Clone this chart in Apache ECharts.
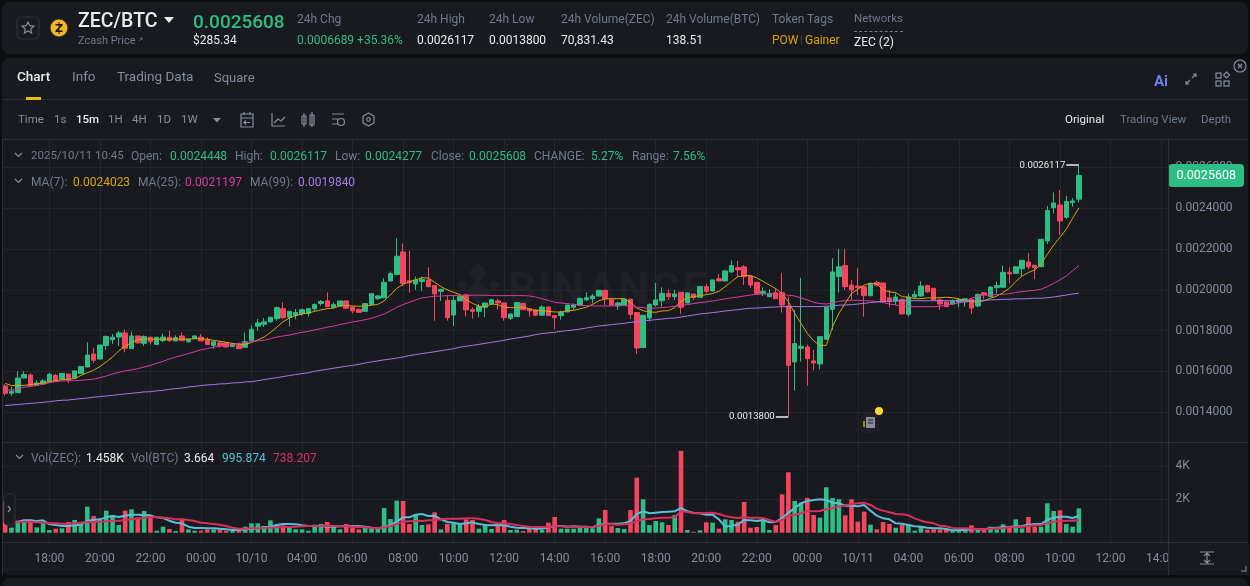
<!DOCTYPE html>
<html>
<head>
<meta charset="utf-8">
<title>ZEC/BTC</title>
<script src="https://cdn.jsdelivr.net/npm/echarts@6/dist/echarts.min.js"></script>
<style>
    html, body { margin: 0; padding: 0; width: 1250px; height: 586px; overflow: hidden; background: #0c0e12; font-family: Roboto, sans-serif; }
    .panel { position: absolute; background: #181a20; border-radius: 8px; }
    .rule { position: absolute; background: #2b3139; }
    .txt { position: absolute; white-space: nowrap; transform: translateY(-50%); line-height: 1; }
    #chart { position: absolute; left: 0; top: 0; width: 1250px; height: 586px; }
    #watermark { position: absolute; left: 508px; top: 263px; font: 700 44px Roboto, sans-serif; letter-spacing: 2px; color: #1f2127; }
    svg { position: absolute; overflow: visible; }
</style>
</head>
<body>
<div class="panel" style="left:2px;top:2px;width:1246px;height:52px"></div>
<div class="panel" style="left:2px;top:58px;width:1246px;height:517px"></div>
<div class="panel" style="left:2px;top:578px;width:1246px;height:20px"></div>
<div id="watermark">BINANCE</div>
<svg style="left:0;top:0" width="1250" height="586"><path d="M478 263 l10 10 -10 10 -10 -10z M478 280 l12 12 -12 12 -12 -12z M462 279 l6 6 -6 6 -6 -6z M494 279 l6 6 -6 6 -6 -6z" fill="#1f2127"/></svg>
<div id="chart"></div>
<div class="rule" style="left:2px;top:99px;width:1246px;height:1px"></div>
<div class="rule" style="left:2px;top:139px;width:1246px;height:1px"></div>
<div class="rule" style="left:2px;top:442px;width:1246px;height:1px"></div>
<div class="rule" style="left:2px;top:542px;width:1246px;height:1px"></div>
<div class="rule" style="left:2px;top:140px;width:1px;height:435px"></div>
<div class="rule" style="left:1168px;top:140px;width:1px;height:435px"></div>
<div style="position:absolute;left:26px;top:97px;width:15px;height:3px;background:#f0b90b"></div>
<div style="position:absolute;left:854px;top:31px;width:49px;border-top:1px dashed #707a8a"></div>
<svg style="left:0;top:0" width="1250" height="586" fill="none" stroke="#848e9c" stroke-width="1.2">
    <rect x="17" y="17" width="22" height="22" rx="5" stroke="#2b3139"/>
    <path d="M28 22 l1.8 3.7 4 .5 -3 2.8 .8 4 -3.6 -2 -3.6 2 .8 -4 -3 -2.8 4 -.5z"/>
    <circle cx="59" cy="28" r="9" fill="#f4b728" stroke="#2b3139"/>
    <path d="M55.5 24 h7 v1.5 l-5 5 h5 v1.5 h-7 v-1.5 l5 -5 h-5z M58.5 22 h1 v12 h-1z" fill="#181a20" stroke="none"/>
    <path d="M164 17 h10 l-5 6z" fill="#eaecef" stroke="none"/>
    <path d="M139 41 l3 -3 M140 38 h2 v2" stroke="#707a8a" stroke-width="0.8"/>
    <path d="M213 118 h8 l-4 4.5z" fill="#848e9c" stroke="none"/>
    <path d="M241 114 h12 v13 h-12z M241 118 h12 M244 112 v3 M250 112 v3 M250 122.500 h-6 l2 -2 M244 122.500 l2 2"/>
    <path d="M272 113 v13 h13 M274 123 l4 -4 3 2 4 -4"/>
    <path d="M302 116 h4 v8 h-4z M304 113 v14 M310 115 h4 v10 h-4z M312 112 v15"/>
    <path d="M332 114 h12 M332 119 h6 M332 124 h6"/><circle cx="341" cy="122" r="3.500"/>
    <path d="M368.500 113 l5.500 3.200 v6.600 l-5.500 3.200 -5.500 -3.200 v-6.600z"/><circle cx="368.500" cy="119.500" r="1.800"/>
    <path d="M1186 84 l4 -4 M1196 74 l-4 4 M1193 74 h3 v3 M1186 81 v3 h3"/>
    <rect x="1216" y="73" width="5" height="5"/><rect x="1216" y="81" width="5" height="5"/><rect x="1224" y="81" width="5" height="5"/><path d="M1226.500 72 l3 3 -3 3 -3 -3z"/>
    <circle cx="1240" cy="66" r="6"/><path d="M1238 64 l4 4 M1242 64 l-4 4"/>
    <path d="M15 153 l3.500 3.500 3.500 -3.500 M15 179 l3.500 3.500 3.500 -3.500 M16 455 l3.500 3.500 3.500 -3.500"/>
    <rect x="4" y="494" width="11" height="31" rx="4" fill="#181a20" stroke="#2b3139"/>
    <path d="M8 506 l2.500 3 -2.500 3"/>
    <path d="M1200 552 h14 M1200 564 h14 M1207 553 v10 M1204 556 l3 -3 3 3 M1204 560 l3 3 3 -3"/>
    <path d="M1241 571 h5 v-5" stroke="#5e6673" stroke-width="1.500"/>
    <rect x="861" y="413" width="18" height="20" rx="5" fill="#1e2026" stroke="none"/>
    <path d="M864 421 v6" stroke="#d9a406" stroke-width="1.500"/>
    <rect x="866" y="417" width="9" height="11" fill="#848e9c" stroke="none"/>
    <path d="M868 420 h5 M868 423 h5" stroke="#181a20"/>
    <circle cx="879" cy="411" r="4" fill="#fcd535" stroke="none"/>
</svg>
<div id="labels"></div>

<script>
    // all prices below are in millionths of a BTC (1529 = 0.001529)
    const tickLabels = ['18:00', '20:00', '22:00', '00:00', '10/10', '04:00', '06:00', '08:00', '10:00', '12:00', '14:00', '16:00',
        '18:00', '20:00', '22:00', '00:00', '10/11', '04:00', '06:00', '08:00', '10:00', '12:00', '14:00'];
    const priceTicks = [1400, 1600, 1800, 2000, 2200, 2400, 2600];
    const volumeTicks = [2000, 4000];

    const opens = [1529,1493,1496,1568,1583,1532,1539,1549,1581,1562,
        1588,1567,1590,1622,1686,1661,1727,1756,1769,1789,
        1712,1774,1738,1768,1732,1751,1768,1750,1774,1746,
        1761,1768,1755,1728,1740,1740,1722,1728,1719,1751,
        1822,1831,1843,1859,1908,1866,1874,1884,1885,1907,
        1933,1946,1915,1921,1946,1916,1905,1895,1928,1957,
        1961,2044,2075,2186,2045,2029,2041,2049,2021,1993,
        1949,1877,1946,1975,1903,1895,1915,1931,1946,1936,
        1861,1869,1934,1907,1902,1876,1916,1874,1874,1892,
        1915,1925,1951,1957,1970,1998,1952,1921,1926,1954,
        1889,1717,1862,1926,1947,1983,1967,1988,1936,1980,
        1964,2016,1995,2055,2044,2088,2109,2113,2068,2037,
        1983,1967,1986,1986,1921,1647,1714,1720,1652,1637,
        1758,1905,2065,2119,2024,2019,2016,1972,2037,2034,
        1961,1946,1954,1880,1965,1970,2021,2008,1951,1941,
        1931,1939,1941,1954,1921,1986,1967,2011,2013,2086,
        2081,2104,2137,2121,2114,2240,2403,2416,2356,2428,2444.8];
    const closes = [1493,1503,1568,1585,1531,1544,1554,1586,1552,1591,
        1558,1603,1624,1681,1655,1730,1771,1768,1789,1714,
        1774,1740,1771,1746,1768,1769,1751,1766,1751,1758,
        1774,1750,1732,1746,1727,1720,1735,1712,1746,1807,
        1838,1843,1866,1913,1864,1895,1889,1903,1908,1928,
        1943,1918,1928,1946,1910,1897,1890,1933,1982,1970,
        2037,2080,2165,2032,2035,2049,2052,2016,1980,2003,
        1864,1949,1967,1902,1895,1918,1936,1952,1936,1864,
        1882,1938,1903,1897,1876,1916,1874,1864,1890,1926,
        1926,1957,1961,1970,1998,1956,1926,1936,1954,1880,
        1715,1876,1929,1951,1983,1967,1980,1915,1985,1962,
        2016,1993,2049,2044,2093,2119,2098,2065,2024,1983,
        1993,1983,1957,1926,1630,1737,1724,1663,1642,1771,
        1915,2088,2113,2016,2000,2011,1972,2032,2023,1943,
        1943,1965,1882,1965,1977,2019,1991,1951,1931,1918,
        1944,1951,1956,1911,1978,1977,2014,2021,2086,2078,
        2113,2145,2113,2109,2248,2389,2426,2338,2433,2436,2560.8];
    const highs = [1537,1526,1601,1601,1591,1557,1563,1593,1588,1591,
        1588,1603,1627,1743,1715,1730,1777,1784,1799,1805,
        1795,1774,1777,1768,1768,1786,1799,1777,1792,1761,
        1777,1783,1768,1748,1750,1743,1738,1742,1792,1826,
        1859,1862,1869,1918,1939,1895,1907,1908,1908,1934,
        1951,1988,1938,1946,1946,1916,1908,1934,1982,1975,
        2057,2090,2253,2228,2192,2065,2065,2111,2021,2003,
        1974,1972,1975,1982,1915,1931,1936,1956,1956,1936,
        1885,1939,1934,1911,1905,1925,1921,1874,1898,1926,
        1934,1964,1988,1980,2001,2001,1957,1941,1954,1957,
        1889,1876,1934,2034,2013,2003,2000,1988,1988,1980,
        2019,2029,2049,2078,2098,2145,2142,2122,2072,2037,
        2013,2003,2006,2083,1967,1902,2059,1732,1706,1771,
        1918,2155,2201,2201,2049,2106,2016,2036,2045,2037,
        2000,1983,1957,1983,1996,2042,2026,2008,1959,1941,
        1954,1959,1959,1957,1982,1990,2019,2041,2119,2111,
        2116,2145,2181,2121,2248,2411,2478,2490,2460,2451,2611.7];
    const lows = [1482,1480,1496,1568,1529,1532,1536,1547,1549,1560,
        1542,1565,1588,1622,1642,1661,1706,1735,1725,1694,
        1712,1740,1725,1732,1730,1745,1745,1748,1750,1740,
        1760,1748,1730,1712,1717,1719,1722,1711,1719,1746,
        1800,1818,1841,1849,1857,1820,1856,1872,1869,1895,
        1923,1915,1907,1920,1908,1885,1889,1893,1926,1951,
        1961,2041,2075,2019,1986,2000,1995,2013,1849,1946,
        1849,1823,1946,1869,1859,1866,1867,1926,1903,1849,
        1853,1867,1902,1869,1874,1872,1872,1808,1854,1890,
        1903,1923,1946,1934,1967,1926,1925,1902,1923,1857,
        1686,1715,1846,1918,1918,1951,1951,1882,1934,1951,
        1962,1983,1993,2042,2041,2086,2065,2024,2010,1983,
        1970,1965,1956,1889,1380,1506,1648,1531,1606,1611,
        1755,1804,1986,2000,1951,1975,1869,1967,2016,1938,
        1915,1926,1882,1869,1959,1967,1986,1948,1902,1915,
        1926,1915,1918,1882,1915,1954,1964,1983,2013,2032,
        2078,2068,2101,2052,2111,2225,2375,2269,2349,2408,2427.7];

    const ma7 = [1542,1531,1531,1532,1536,1539,1544,1550,1555,1560,
        1562,1565,1581,1594,1606,1624,1647,1671,1702,1724,
        1742,1756,1759,1759,1758,1758,1758,1759,1759,1759,
        1761,1761,1758,1753,1748,1743,1738,1733,1732,1742,
        1755,1769,1791,1817,1844,1862,1875,1882,1887,1895,
        1902,1908,1911,1921,1923,1921,1920,1920,1925,1929,
        1946,1975,2008,2027,2039,2049,2060,2058,2037,2016,
        2000,1988,1977,1952,1934,1920,1918,1931,1928,1915,
        1913,1913,1916,1907,1898,1898,1895,1892,1892,1898,
        1900,1907,1915,1929,1947,1956,1957,1957,1957,1939,
        1911,1898,1892,1890,1897,1898,1913,1943,1962,1967,
        1972,1977,1982,1993,2016,2041,2065,2070,2070,2059,
        2042,2024,2006,1982,1943,1885,1836,1787,1751,1728,
        1728,1820,1885,1934,1983,2003,2024,2032,2029,2000,
        1990,1987,1967,1964,1957,1957,1961,1961,1962,1964,
        1962,1956,1947,1941,1941,1947,1959,1970,1987,2008,
        2041,2068,2085,2098,2127,2174,2220,2258,2297,2351,2402.3];
    const ma25 = [1509,1509,1513,1523,1526,1532,1537,1545,1550,1554,
        1555,1555,1557,1560,1562,1570,1578,1588,1596,1603,
        1608,1614,1622,1630,1640,1650,1661,1671,1679,1688,
        1697,1706,1712,1719,1724,1727,1732,1737,1742,1746,
        1750,1753,1761,1769,1774,1779,1786,1792,1797,1804,
        1810,1817,1823,1830,1836,1843,1848,1854,1861,1871,
        1882,1897,1915,1928,1939,1951,1961,1965,1969,1970,
        1972,1972,1974,1974,1974,1974,1974,1972,1972,1972,
        1972,1972,1972,1970,1965,1957,1949,1939,1936,1933,
        1929,1926,1923,1921,1921,1921,1921,1923,1923,1920,
        1915,1913,1910,1911,1913,1916,1920,1923,1928,1933,
        1938,1941,1946,1951,1956,1961,1965,1970,1975,1978,
        1980,1980,1980,1977,1974,1970,1961,1951,1939,1933,
        1931,1936,1944,1947,1949,1949,1947,1946,1943,1938,
        1931,1926,1921,1920,1918,1918,1918,1918,1920,1925,
        1931,1936,1946,1959,1970,1974,1975,1977,1978,1982,
        1987,1992,1995,1998,2003,2016,2032,2049,2068,2094,2119.7];
    const ma99 = [1433,1436,1438,1441,1444,1446,1449,1452,1456,1459,
        1460,1464,1467,1470,1474,1477,1480,1483,1487,1490,
        1493,1496,1500,1501,1505,1508,1513,1516,1519,1524,
        1527,1531,1534,1536,1539,1540,1544,1545,1549,1550,
        1555,1560,1565,1570,1575,1580,1585,1590,1594,1601,
        1606,1611,1616,1621,1626,1630,1635,1642,1647,1652,
        1657,1661,1666,1671,1678,1683,1688,1692,1697,1702,
        1707,1712,1719,1724,1728,1733,1738,1743,1748,1753,
        1759,1764,1769,1774,1781,1786,1789,1792,1797,1800,
        1804,1808,1813,1818,1823,1826,1830,1833,1836,1841,
        1844,1848,1851,1854,1857,1861,1862,1867,1872,1877,
        1882,1885,1889,1892,1897,1900,1903,1907,1910,1911,
        1913,1915,1916,1918,1918,1918,1918,1918,1918,1918,
        1920,1921,1925,1926,1928,1931,1934,1938,1941,1943,
        1944,1946,1946,1947,1947,1947,1947,1947,1947,1947,
        1947,1947,1947,1947,1947,1949,1951,1952,1954,1954,
        1956,1956,1957,1959,1959,1962,1965,1970,1975,1980,1984];

    const volumes = [1860,300,600,760,660,320,600,160,240,260,
        640,760,540,1560,1000,760,1320,1040,460,1320,
        1400,920,1300,1040,120,360,220,100,760,200,
        120,120,200,200,200,120,120,160,360,560,
        560,400,740,440,440,300,200,200,120,480,
        520,640,400,200,520,320,200,320,240,240,
        1480,820,1920,1900,520,1060,460,500,1220,200,
        520,560,520,800,760,240,440,220,400,760,
        160,180,100,220,240,160,600,940,240,240,
        240,300,280,260,860,1360,400,280,220,1360,
        3300,2000,460,700,620,460,1060,4900,160,60,
        140,620,600,240,800,760,660,1840,300,340,
        800,160,460,2300,3620,1900,1800,2080,1060,900,
        2720,2080,2000,1040,2000,660,1260,480,200,640,
        520,300,460,440,120,400,180,200,200,200,
        100,160,160,440,200,160,360,200,500,320,
        800,260,940,360,360,1760,1300,1340,520,360,1458];
    const volMaFast = [660,660,660,740,740,700,740,500,460,400,
        400,440,480,720,760,800,920,1000,940,1020,
        1080,1080,1040,1040,920,880,720,600,560,360,
        280,280,260,260,240,200,160,160,200,220,
        260,320,360,460,520,520,500,440,400,400,
        380,360,360,380,380,400,400,360,300,260,
        320,460,660,920,920,1080,1120,1000,1020,800,
        640,600,520,560,620,520,460,440,460,440,
        360,300,280,260,240,240,320,400,400,360,
        380,360,360,320,460,540,540,540,560,700,
        1120,1280,1160,1200,1240,1260,1280,1480,1280,1180,
        1160,1080,1080,800,360,420,480,760,740,700,
        760,620,640,880,1200,1460,1760,1900,1960,2000,
        1960,1800,1760,1620,1620,1580,1660,1320,1020,860,
        800,560,540,460,380,360,300,260,260,220,
        140,160,160,200,200,200,260,300,320,340,
        380,400,480,520,520,760,900,960,960,880,995.874];
    const volMaSlow = [600,600,620,660,660,620,600,560,560,540,
        540,560,600,640,640,660,680,720,720,760,
        800,840,900,940,940,900,860,800,800,760,
        700,600,560,520,480,400,300,240,240,260,
        260,280,300,320,340,340,360,380,400,400,
        400,420,400,380,380,360,340,320,300,260,
        320,400,520,660,680,700,700,740,760,800,
        840,840,840,860,860,840,760,640,560,560,
        520,460,400,360,340,340,340,380,380,360,
        360,360,320,360,420,500,520,480,500,560,
        700,800,820,860,900,900,920,1280,1240,1160,
        1160,1180,1200,1120,1000,920,880,920,900,900,
        880,760,640,760,1000,1080,1160,1280,1280,1300,
        1420,1460,1560,1640,1700,1760,1800,1660,1440,1320,
        1220,1120,1100,1040,860,720,620,560,420,380,
        280,260,260,240,220,220,240,260,280,320,
        320,360,400,440,460,560,660,700,720,720,738.207];

    // x, y centre, text, colour, font size, weight
    const grey = '#848e9c', dim = '#707a8a', white = '#eaecef', green = '#2ebd85';
    const amber = '#d9a406', pink = '#d63d9e', violet = '#a57be6';
    const labelRows = [
        [78, 21, 'ZEC/BTC', white, 19.5, 500],
        [78, 40, 'Zcash Price', dim, 11, 400],
        [193, 21, '0.0025608', green, 19, 500],
        [193, 40, '$285.34', white, 12, 400],
        [297, 19, '24h Chg', dim, 12, 400],
        [297, 40, '0.0006689 +35.36%', green, 12, 400],
        [417, 19, '24h High', dim, 12, 400],
        [417, 40, '0.0026117', white, 12, 400],
        [489, 19, '24h Low', dim, 12, 400],
        [489, 40, '0.0013800', white, 12, 400],
        [561, 19, '24h Volume(ZEC)', dim, 12, 400],
        [561, 40, '70,831.43', white, 12, 400],
        [666, 19, '24h Volume(BTC)', dim, 12, 400],
        [666, 40, '138.51', white, 12, 400],
        [772, 19, 'Token Tags', dim, 12, 400],
        [772, 40, 'POW', '#d9a406', 12, 400],
        [800, 40, '|', '#474d57', 10, 400],
        [805, 40, 'Gainer', '#d9a406', 12, 400],
        [854, 19, 'Networks', dim, 11.5, 400],
        [854, 42, 'ZEC (2)', white, 12, 400],
        [17, 77, 'Chart', white, 13.5, 500],
        [72, 77, 'Info', grey, 13.5, 400],
        [117, 77, 'Trading Data', grey, 13.5, 400],
        [214, 77, 'Square', grey, 13, 400],
        [1154, 81, 'Ai', '#6f7ff0', 15, 700],
        [18, 120, 'Time', grey, 11.5, 400],
        [54, 120, '1s', grey, 11.5, 400],
        [76, 120, '15m', white, 11.5, 500],
        [108, 120, '1H', grey, 11.5, 400],
        [132, 120, '4H', grey, 11.5, 400],
        [157, 120, '1D', grey, 11.5, 400],
        [181, 120, '1W', grey, 11.5, 400],
        [1065, 120, 'Original', white, 11.5, 400],
        [1120, 120, 'Trading View', dim, 11.5, 400],
        [1201, 120, 'Depth', dim, 11.5, 400],
        [31, 156, '2025/10/11 10:45', dim, 11.5, 400],
        [131, 156, 'Open:', dim, 12, 400],
        [170, 156, '0.0024448', green, 12, 400],
        [235, 156, 'High:', dim, 12, 400],
        [270, 156, '0.0026117', green, 12, 400],
        [335, 156, 'Low:', dim, 12, 400],
        [365, 156, '0.0024277', green, 12, 400],
        [431, 156, 'Close:', dim, 12, 400],
        [469, 156, '0.0025608', green, 12, 400],
        [534, 156, 'CHANGE:', dim, 12, 400],
        [591, 156, '5.27%', green, 12, 400],
        [632, 156, 'Range:', dim, 12, 400],
        [673, 156, '7.56%', green, 12, 400],
        [31, 182, 'MA(7):', dim, 12, 400],
        [73, 182, '0.0024023', amber, 12, 400],
        [138, 182, 'MA(25):', dim, 12, 400],
        [185, 182, '0.0021197', pink, 12, 400],
        [250, 182, 'MA(99):', dim, 12, 400],
        [298, 182, '0.0019840', violet, 12, 400],
        [31, 458, 'Vol(ZEC):', dim, 12, 400],
        [86, 458, '1.458K', white, 12, 400],
        [131, 458, 'Vol(BTC)', dim, 12, 400],
        [184, 458, '3.664', white, 12, 400],
        [222, 458, '995.874', '#58bfd6', 12, 400],
        [273, 458, '738.207', '#d7305e', 12, 400]
    ];
    const labels = document.getElementById('labels');
    labelRows.forEach(([x, y, text, color, size, weight]) => {
        const el = document.createElement('span');
        el.className = 'txt';
        el.textContent = text;
        el.style.cssText = `left:${x}px;top:${y}px;color:${color};font-size:${size}px;font-weight:${weight}`;
        labels.appendChild(el);
    });

    // 171 candles plus the empty room on the right side of the chart
    const slots = 185;
    const categories = Array.from({ length: slots }, (_, i) => String(i));
    const isTick = (i) => i >= 7 && (i - 7) % 8 === 0;
    const candles = opens.map((o, i) => [o, closes[i], lows[i], highs[i]]);
    const last = opens.length - 1;
    const lowIndex = lows.indexOf(Math.min(...lows));
    const upColor = '#2ebd85', downColor = '#f6465d';
    const gridLine = '#22262d';

    const extreme = (i, v) => [{
        coord: [i - 2, v],
        lineStyle: { color: white, width: 1.5, type: 'solid', opacity: 1 },
        label: { show: true, position: 'start', distance: 1, formatter: (v / 1e6).toFixed(7), color: white, fontSize: 9.6, fontFamily: 'Roboto' }
    }, { coord: [i, v] }];

    const xAxisBase = {
        type: 'category',
        data: categories,
        boundaryGap: true,
        axisLine: { show: false },
        axisTick: { show: false, interval: (i) => isTick(i), alignWithLabel: true },
        splitLine: { show: true, interval: (i) => isTick(i), alignWithLabel: true, lineStyle: { color: gridLine, width: 1 } }
    };

    const chart = echarts.init(document.getElementById('chart'));
    chart.setOption({
        backgroundColor: 'transparent',
        animation: false,
        textStyle: { fontFamily: 'Roboto' },
        grid: [
            { left: 2, top: 140, width: 1168.5, height: 302 },
            { left: 2, top: 442, width: 1168.5, height: 100 }
        ],
        xAxis: [
            { ...xAxisBase, gridIndex: 0, axisLabel: { show: false } },
            {
                ...xAxisBase,
                gridIndex: 1,
                axisLabel: {
                    show: true,
                    interval: (i) => isTick(i),
                    formatter: (v) => tickLabels[(Number(v) - 7) / 8],
                    color: grey,
                    fontSize: 12,
                    margin: 11
                }
            }
        ],
        yAxis: [
            {
                type: 'value',
                gridIndex: 0,
                position: 'right',
                min: 1254.4,
                max: 2734.8,
                axisLine: { show: false },
                axisTick: { show: false, customValues: priceTicks },
                axisLabel: { customValues: priceTicks, margin: 5, color: grey, fontSize: 12, formatter: (v) => (v / 1e6).toFixed(7) },
                splitLine: { show: true, lineStyle: { color: gridLine, width: 1 } }
            },
            {
                type: 'value',
                gridIndex: 1,
                position: 'right',
                min: -557,
                max: 5431,
                axisLine: { show: false },
                axisTick: { show: false, customValues: volumeTicks },
                axisLabel: { customValues: volumeTicks, margin: 5, color: grey, fontSize: 12, formatter: (v) => (v / 1000) + 'K' },
                splitLine: { show: true, lineStyle: { color: gridLine, width: 1 } }
            }
        ],
        series: [
            {
                type: 'candlestick',
                xAxisIndex: 0,
                yAxisIndex: 0,
                data: candles,
                barWidth: 5,
                z: 3,
                itemStyle: { color: upColor, color0: downColor, borderColor: upColor, borderColor0: downColor, borderWidth: 1 },
                markLine: {
                    silent: true,
                    animation: false,
                    symbol: 'none',
                    data: [
                        {
                            yAxis: closes[last],
                            lineStyle: { color: 'transparent', opacity: 1 },
                            label: {
                                show: true,
                                position: 'end',
                                distance: -2,
                                formatter: (closes[last] / 1e6).toFixed(7),
                                color: '#ffffff',
                                fontSize: 12.5,
                                fontFamily: 'Roboto',
                                backgroundColor: upColor,
                                borderRadius: 4,
                                padding: [5, 8]
                            }
                        },
                        extreme(last, highs[last]),
                        extreme(lowIndex, lows[lowIndex])
                    ]
                }
            },
            { type: 'line', name: 'MA(7)', xAxisIndex: 0, yAxisIndex: 0, data: ma7, showSymbol: false, z: 4, lineStyle: { color: amber, width: 1 } },
            { type: 'line', name: 'MA(25)', xAxisIndex: 0, yAxisIndex: 0, data: ma25, showSymbol: false, z: 4, lineStyle: { color: pink, width: 1 } },
            { type: 'line', name: 'MA(99)', xAxisIndex: 0, yAxisIndex: 0, data: ma99, showSymbol: false, z: 4, lineStyle: { color: violet, width: 1 } },
            {
                type: 'bar',
                xAxisIndex: 1,
                yAxisIndex: 1,
                data: volumes,
                barWidth: 4.6,
                itemStyle: { color: (p) => (closes[p.dataIndex] >= opens[p.dataIndex] ? upColor : downColor) }
            },
            { type: 'line', name: 'Vol MA fast', xAxisIndex: 1, yAxisIndex: 1, data: volMaFast, showSymbol: false, z: 4, lineStyle: { color: '#58bfd6', width: 2 } },
            { type: 'line', name: 'Vol MA slow', xAxisIndex: 1, yAxisIndex: 1, data: volMaSlow, showSymbol: false, z: 4, lineStyle: { color: '#d7305e', width: 2 } }
        ],
        // hides what runs past the price scale border
        graphic: [
            { type: 'rect', z: 1, silent: true, shape: { x: 1169, y: 140, width: 3, height: 403 }, style: { fill: '#181a20' } },
            { type: 'rect', z: 1, silent: true, shape: { x: 1169, y: 543, width: 80, height: 32 }, style: { fill: '#181a20' } }
        ]
    });
</script>
</body>
</html>
